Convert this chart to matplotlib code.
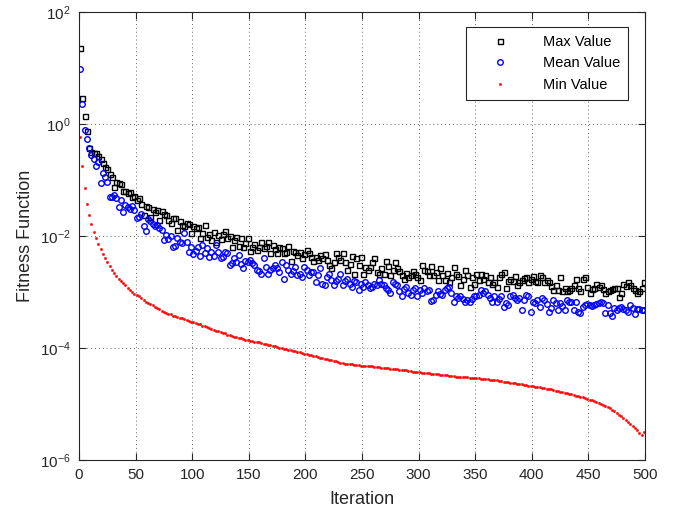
import numpy as np
import matplotlib
matplotlib.use("Agg")
import matplotlib.pyplot as plt
from matplotlib.ticker import FixedLocator, NullLocator

# iterations (every 2nd iteration is plotted)
iterations = np.arange(1, 500, 2)

# log10 of the plotted fitness values
max_log = [
    1.35, 0.47, 0.14, -0.13, -0.42,
    -0.50, -0.51, -0.52, -0.58, -0.62,
    -0.69, -0.77, -0.80, -0.90, -0.95,
    -1.13, -1.03, -1.05, -1.07, -1.19,
    -1.20, -1.23, -1.21, -1.31, -1.28,
    -1.36, -1.33, -1.42, -1.62, -1.47,
    -1.48, -1.66, -1.52, -1.57, -1.54,
    -1.71, -1.55, -1.60, -1.62, -1.72,
    -1.77, -1.68, -1.67, -1.89, -1.74,
    -1.80, -1.83, -1.77, -1.79, -1.95,
    -1.82, -1.85, -1.84, -2.04, -1.94,
    -1.80, -2.01, -1.96, -2.07, -1.92,
    -2.10, -1.98, -2.05, -1.97, -1.91,
    -2.04, -2.00, -2.20, -2.08, -2.01,
    -2.18, -2.03, -2.19, -2.12, -2.03,
    -2.26, -2.19, -2.14, -2.25, -2.20,
    -2.10, -2.22, -2.18, -2.10, -2.30,
    -2.16, -2.24, -2.30, -2.19, -2.22,
    -2.30, -2.28, -2.18, -2.44, -2.27,
    -2.28, -2.34, -2.28, -2.39, -2.33,
    -2.25, -2.30, -2.37, -2.45, -2.37,
    -2.42, -2.34, -2.40, -2.33, -2.43,
    -2.52, -2.58, -2.46, -2.31, -2.37,
    -2.43, -2.31, -2.47, -2.61, -2.50,
    -2.35, -2.68, -2.40, -2.52, -2.38,
    -2.67, -2.55, -2.61, -2.55, -2.46,
    -2.40, -2.64, -2.67, -2.58, -2.68,
    -2.45, -2.53, -2.70, -2.60, -2.47,
    -2.57, -2.63, -2.70, -2.76, -2.66,
    -2.73, -2.70, -2.62, -2.67, -2.73,
    -2.79, -2.52, -2.60, -2.63, -2.70,
    -2.54, -2.70, -2.64, -2.79, -2.58,
    -2.70, -2.79, -2.66, -2.82, -2.74,
    -2.56, -2.67, -2.72, -2.88, -2.76,
    -2.61, -2.70, -2.91, -2.74, -2.85,
    -2.68, -2.78, -2.68, -2.76, -2.70,
    -2.82, -2.74, -2.86, -2.82, -2.91,
    -2.73, -2.67, -2.65, -2.93, -2.80,
    -2.76, -2.80, -2.72, -2.88, -2.82,
    -2.79, -2.75, -2.73, -2.82, -2.77,
    -2.71, -2.80, -2.83, -2.70, -2.73,
    -2.82, -2.78, -2.82, -2.90, -2.96,
    -2.88, -2.96, -2.74, -2.98, -2.92,
    -2.98, -2.96, -2.92, -2.88, -2.77,
    -2.93, -2.99, -2.77, -2.74, -2.91,
    -3.02, -2.95, -2.93, -2.85, -2.91,
    -2.88, -2.94, -3.02, -2.99, -2.96,
    -2.95, -2.92, -2.93, -3.09, -3.02,
    -2.86, -2.90, -2.82, -2.88, -2.93,
    -2.96, -3.02, -2.98, -2.92, -2.83,
]

mean_log = [
    0.98, 0.35, -0.10, -0.26, -0.42,
    -0.55, -0.63, -0.75, -0.68, -1.05,
    -0.87, -0.94, -1.03, -1.30, -1.31,
    -1.27, -1.33, -1.49, -1.36, -1.58,
    -1.45, -1.49, -1.52, -1.47, -1.54,
    -1.68, -1.66, -1.60, -1.82, -1.91,
    -1.70, -1.74, -1.78, -1.83, -1.80,
    -1.86, -1.90, -2.07, -1.98, -2.06,
    -2.00, -2.19, -2.18, -2.04, -2.10,
    -2.13, -1.95, -2.10, -2.28, -2.20,
    -2.33, -2.26, -2.19, -2.36, -2.16,
    -2.30, -2.22, -2.37, -2.28, -2.35,
    -2.16, -2.28, -2.40, -2.37, -2.28,
    -2.31, -2.52, -2.49, -2.40, -2.46,
    -2.34, -2.50, -2.58, -2.44, -2.46,
    -2.43, -2.48, -2.52, -2.60, -2.62,
    -2.67, -2.40, -2.55, -2.67, -2.61,
    -2.58, -2.52, -2.58, -2.64, -2.46,
    -2.76, -2.52, -2.60, -2.67, -2.62,
    -2.55, -2.70, -2.67, -2.73, -2.55,
    -2.61, -2.70, -2.64, -2.64, -2.82,
    -2.70, -2.58, -2.85, -2.88, -2.73,
    -2.67, -2.79, -2.88, -2.80, -2.76,
    -2.67, -2.88, -2.80, -2.76, -2.85,
    -2.91, -2.80, -2.82, -2.96, -2.85,
    -2.91, -2.82, -2.88, -2.93, -2.91,
    -2.86, -2.88, -2.79, -2.85, -2.87,
    -2.93, -2.96, -3.02, -2.82, -2.85,
    -2.87, -2.99, -3.08, -2.95, -2.91,
    -3.02, -3.05, -2.96, -2.93, -3.08,
    -2.96, -3.01, -2.93, -2.98, -2.96,
    -3.16, -3.14, -3.05, -2.99, -3.03,
    -3.05, -2.96, -2.93, -2.91, -3.02,
    -3.17, -3.08, -3.10, -3.08, -3.12,
    -3.17, -3.14, -3.17, -3.12, -3.08,
    -3.08, -3.05, -2.96, -3.02, -2.99,
    -3.05, -3.10, -3.17, -3.07, -3.17,
    -3.12, -3.08, -3.26, -3.20, -3.23,
    -3.08, -3.05, -3.11, -3.15, -3.11,
    -3.32, -3.14, -3.05, -3.07, -3.35,
    -3.17, -3.19, -3.14, -3.26, -3.11,
    -3.14, -3.22, -3.35, -3.29, -3.14,
    -3.20, -3.32, -3.20, -3.25, -3.32,
    -3.14, -3.17, -3.17, -3.32, -3.17,
    -3.35, -3.38, -3.26, -3.23, -3.22,
    -3.23, -3.25, -3.23, -3.21, -3.20,
    -3.17, -3.20, -3.37, -3.23, -3.37,
    -3.43, -3.29, -3.32, -3.28, -3.26,
    -3.30, -3.32, -3.35, -3.23, -3.28,
    -3.39, -3.30, -3.31, -3.32, -3.32,
]

min_log = [
    -0.24, -0.75, -1.15, -1.42, -1.63,
    -1.79, -1.93, -2.04, -2.14, -2.23,
    -2.32, -2.40, -2.47, -2.54, -2.61,
    -2.66, -2.71, -2.76, -2.80, -2.84,
    -2.88, -2.92, -2.96, -3.00, -3.03,
    -3.05, -3.08, -3.11, -3.14, -3.17,
    -3.19, -3.22, -3.24, -3.27, -3.29,
    -3.31, -3.34, -3.35, -3.37, -3.39,
    -3.40, -3.42, -3.43, -3.45, -3.46,
    -3.47, -3.49, -3.50, -3.52, -3.53,
    -3.54, -3.55, -3.57, -3.58, -3.60,
    -3.61, -3.63, -3.64, -3.66, -3.68,
    -3.69, -3.70, -3.72, -3.73, -3.74,
    -3.76, -3.77, -3.78, -3.80, -3.81,
    -3.82, -3.83, -3.84, -3.86, -3.86,
    -3.87, -3.88, -3.89, -3.90, -3.90,
    -3.91, -3.92, -3.93, -3.94, -3.95,
    -3.96, -3.97, -3.98, -4.00, -4.00,
    -4.01, -4.02, -4.03, -4.04, -4.05,
    -4.06, -4.07, -4.08, -4.09, -4.10,
    -4.11, -4.12, -4.13, -4.14, -4.15,
    -4.16, -4.17, -4.18, -4.19, -4.20,
    -4.21, -4.22, -4.23, -4.24, -4.25,
    -4.26, -4.27, -4.28, -4.28, -4.29,
    -4.29, -4.30, -4.31, -4.31, -4.32,
    -4.32, -4.32, -4.33, -4.33, -4.33,
    -4.34, -4.34, -4.34, -4.35, -4.35,
    -4.36, -4.36, -4.37, -4.37, -4.38,
    -4.38, -4.39, -4.39, -4.40, -4.40,
    -4.41, -4.41, -4.42, -4.42, -4.43,
    -4.43, -4.44, -4.44, -4.45, -4.45,
    -4.46, -4.46, -4.47, -4.47, -4.48,
    -4.48, -4.49, -4.49, -4.50, -4.50,
    -4.50, -4.51, -4.51, -4.51, -4.52,
    -4.52, -4.52, -4.53, -4.53, -4.53,
    -4.54, -4.54, -4.55, -4.55, -4.56,
    -4.56, -4.57, -4.57, -4.58, -4.58,
    -4.59, -4.59, -4.60, -4.61, -4.61,
    -4.62, -4.63, -4.63, -4.64, -4.64,
    -4.65, -4.66, -4.66, -4.67, -4.68,
    -4.68, -4.69, -4.70, -4.70, -4.71,
    -4.72, -4.73, -4.73, -4.74, -4.75,
    -4.76, -4.77, -4.78, -4.79, -4.80,
    -4.81, -4.82, -4.83, -4.84, -4.85,
    -4.86, -4.87, -4.88, -4.90, -4.91,
    -4.92, -4.93, -4.95, -4.96, -4.98,
    -5.00, -5.02, -5.04, -5.06, -5.08,
    -5.10, -5.13, -5.16, -5.19, -5.22,
    -5.25, -5.29, -5.33, -5.36, -5.40,
    -5.43, -5.47, -5.52, -5.56, -5.50,
]

max_vals = 10.0 ** np.array(max_log)
mean_vals = 10.0 ** np.array(mean_log)
min_vals = 10.0 ** np.array(min_log)

x_ticks = [0, 50, 100, 150, 200, 250, 300, 350, 400, 450, 500]
y_ticks = [1e-6, 1e-4, 1e-2, 1e0, 1e2]
y_tick_labels = [r"$10^{-6}$", r"$10^{-4}$", r"$10^{-2}$", r"$10^{0}$", r"$10^{2}$"]

plt.rcParams["font.family"] = ["Liberation Sans", "DejaVu Sans"]
plt.rcParams["mathtext.fontset"] = "custom"
plt.rcParams["mathtext.rm"] = "Liberation Sans"
plt.rcParams["mathtext.it"] = "Liberation Sans"

fig = plt.figure(figsize=(6.82, 5.13), dpi=100)
ax = fig.add_axes([79 / 682, 1 - 460 / 513, (645 - 79) / 682, (460 - 12) / 513])

dark = "#262626"
ax.plot(iterations, max_vals, linestyle="none", marker="s", markersize=3.6,
        markerfacecolor="none", markeredgecolor="black", markeredgewidth=1.0,
        label="Max Value")
ax.plot(iterations, mean_vals, linestyle="none", marker="o", markersize=4.0,
        markerfacecolor="none", markeredgecolor="blue", markeredgewidth=1.0,
        label="Mean Value")
ax.plot(iterations, min_vals, linestyle="none", marker="o", markersize=1.7,
        markerfacecolor="red", markeredgecolor="red", markeredgewidth=0.3,
        label="Min Value")

ax.set_yscale("log")
ax.set_xlim(0, 500)
ax.set_ylim(1e-6, 1e2)
ax.xaxis.set_major_locator(FixedLocator(x_ticks))
ax.yaxis.set_major_locator(FixedLocator(y_ticks))
ax.set_yticklabels(y_tick_labels)
ax.yaxis.set_minor_locator(NullLocator())

ax.grid(True, which="major", linestyle=(0, (1, 3)), color="#666666", linewidth=0.7)
ax.tick_params(axis="x", which="major", pad=6)
ax.tick_params(axis="y", which="major", pad=6)
ax.tick_params(axis="both", which="major", direction="in", length=5, width=0.8,
               colors=dark, labelsize=11, top=True, right=True)
for s in ax.spines.values():
    s.set_color(dark)
    s.set_linewidth(0.8)

ax.set_xlabel("Iteration", fontsize=13, color=dark, labelpad=6)
ax.set_ylabel("Fitness Function", fontsize=13, color=dark, labelpad=4)

leg = ax.legend(loc="upper right", bbox_to_anchor=(0.970, 0.9665), borderaxespad=0,
                fontsize=10.5, frameon=True, fancybox=False, framealpha=1,
                edgecolor=dark, handlelength=3.5, handletextpad=1.2, borderpad=0.55,
                labelspacing=0.5, markerscale=1.0)
leg.get_frame().set_linewidth(0.8)

fig.savefig("out.png", dpi=100)
